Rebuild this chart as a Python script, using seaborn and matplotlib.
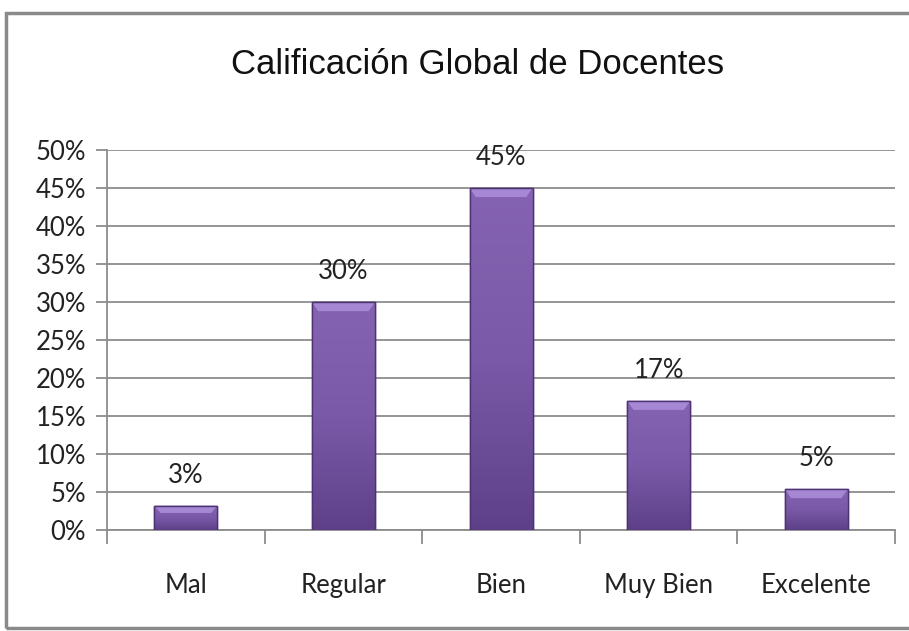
import matplotlib
matplotlib.use("Agg")
import matplotlib.pyplot as plt
from matplotlib.patches import Rectangle
from matplotlib.ticker import FixedLocator, PercentFormatter
import seaborn as sns
import numpy as np
import pandas as pd

# data
categorias = ["Mal", "Regular", "Bien", "Muy Bien", "Excelente"]
valores = [0.032, 0.30, 0.45, 0.17, 0.054]
etiquetas = ["3%", "30%", "45%", "17%", "5%"]
titulo = "Calificación Global de Docentes"

sns.set_theme(style="white")
plt.rcParams["font.family"] = ["Lato", "DejaVu Sans"]

df = pd.DataFrame({"cat": categorias, "val": valores})

fig = plt.figure(figsize=(9.09, 6.31), dpi=100)
ax = fig.add_axes([0.1177, 0.160, 0.867, 0.6023])

sns.barplot(data=df, x="cat", y="val", color="#7756A5", width=0.4,
            saturation=1, edgecolor="#4E3273", linewidth=1.0, ax=ax, zorder=3)

# vertical gradient + light bevel on top of each bar
grad = np.linspace(0, 1, 256).reshape(-1, 1)
cmap = matplotlib.colors.LinearSegmentedColormap.from_list(
    "bar", ["#5E4088", "#7A5AA8", "#8563B2"])
for p in list(ax.patches):
    x0, y0 = p.get_x(), p.get_y()
    w, h = p.get_width(), p.get_height()
    im = ax.imshow(grad, cmap=cmap, aspect="auto", origin="lower",
                   extent=[x0, x0 + w, y0, y0 + h], zorder=3.5)
    im.set_clip_path(p)
    bev = min(0.012, h * 0.3)
    ax.add_patch(plt.Polygon([[x0, y0 + h], [x0 + w, y0 + h],
                              [x0 + w * 0.9, y0 + h - bev], [x0 + w * 0.1, y0 + h - bev]],
                             closed=True, facecolor="#A587D4", edgecolor="none", zorder=3.6))
    ax.add_patch(Rectangle((x0, y0), w, h, fill=False, edgecolor="#4E3273",
                           linewidth=1.0, zorder=3.7))

for p, lab in zip(ax.patches[:len(etiquetas)], etiquetas):
    ax.annotate(lab, (p.get_x() + p.get_width() / 2, p.get_height()),
                xytext=(0, 13), textcoords="offset points",
                ha="center", va="bottom", fontsize=18.5, color="#222222")

ax.set_xlim(-0.5, len(categorias) - 0.5)
ax.set_ylim(0, 0.5)
ax.yaxis.set_major_locator(FixedLocator(np.arange(0, 0.51, 0.05)))
ax.yaxis.set_major_formatter(PercentFormatter(1.0, decimals=0))
ax.grid(axis="y", color="#8C8C8C", linewidth=1.3, zorder=0)
ax.set_axisbelow(True)

ax.set_xlabel("")
ax.set_ylabel("")
for s in ["top", "right"]:
    ax.spines[s].set_visible(False)
ax.spines["left"].set_color("#8C8C8C")
ax.spines["bottom"].set_color("#8C8C8C")
ax.spines["left"].set_linewidth(1.3)
ax.spines["bottom"].set_linewidth(1.3)

ax.tick_params(axis="y", which="major", left=True, length=8, width=1.3,
               color="#8C8C8C", labelsize=18.5, labelcolor="#222222", pad=7)
ax.tick_params(axis="x", which="major", bottom=False, labelsize=18.5,
               labelcolor="#222222", pad=25)
ax.xaxis.set_minor_locator(FixedLocator(np.arange(-0.5, len(categorias), 1.0)))
ax.tick_params(axis="x", which="minor", bottom=True, length=10, width=1.3,
               color="#8C8C8C")

fig.text(0.525, 0.898, titulo, ha="center", va="center", fontsize=25,
         family=["Liberation Sans", "DejaVu Sans"], color="#111111")

# outer frame of the chart area
fig.patches.append(Rectangle((0.0066, 0.005), 1.0, 0.974, transform=fig.transFigure,
                             fill=False, edgecolor="#8A8A8A", linewidth=2.5))

fig.savefig("out.png", dpi=100)
